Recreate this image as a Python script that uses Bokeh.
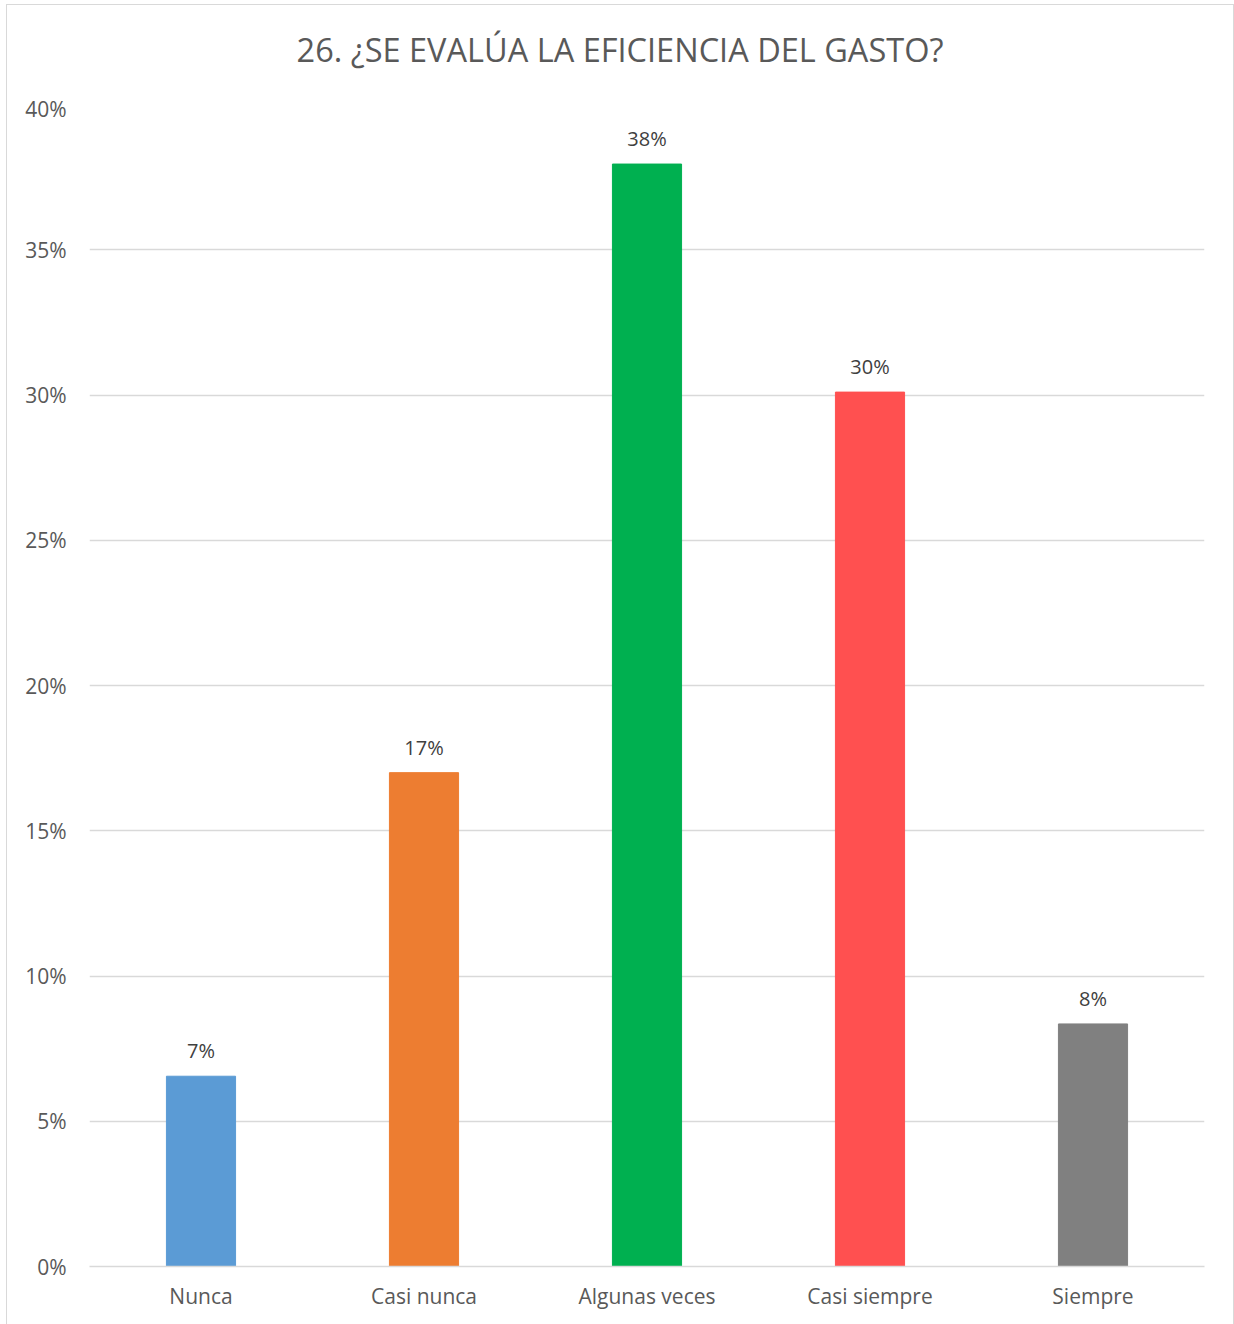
from bokeh.plotting import figure
from bokeh.models import ColumnDataSource, FixedTicker, PrintfTickFormatter, Range1d, FactorRange, Div
from bokeh.layouts import column
from bokeh.embed import file_html
from bokeh.resources import INLINE

categories = ["Nunca", "Casi nunca", "Algunas veces", "Casi siempre", "Siempre"]
values = [6.55, 17.0, 37.95, 30.1, 8.35]
colors = ["#5B9BD5", "#ED7D31", "#00B050", "#FF5050", "#808080"]
labels = [f"{round(v)}%" for v in values]
y_ticks = [0, 5, 10, 15, 20, 25, 30, 35, 40]
title_text = "26. ¿SE EVALÚA LA EFICIENCIA DEL GASTO?"

FONT = "Open Sans"
TXT = "#595959"

src = ColumnDataSource(dict(cat=categories, val=values, col=colors, lab=labels))

title = Div(text=title_text, width=1226, height=89, margin=0,
            styles={"font-family": FONT, "font-size": "32.5px", "color": TXT,
                    "text-align": "center", "line-height": "90px", "white-space": "nowrap"})

p = figure(x_range=FactorRange(*categories), y_range=Range1d(0, 40),
           width=1226, height=1230, output_backend="svg", toolbar_location=None,
           min_border_left=82, min_border_right=29, min_border_top=10, min_border_bottom=58)
p.margin = 0

p.vbar(x="cat", top="val", width=0.31, color="col", source=src)
p.text(x="cat", y="val", text="lab", source=src, text_align="center", text_baseline="bottom",
       y_offset=-12, text_font_size="20px", text_color="#404040", text_font={"value": FONT})

p.outline_line_color = None
p.xgrid.grid_line_color = None
p.ygrid.grid_line_color = "#d9d9d9"
p.ygrid.grid_line_width = 1.5
p.yaxis.ticker = FixedTicker(ticks=y_ticks)
p.yaxis.formatter = PrintfTickFormatter(format="%d%%")
p.yaxis.axis_line_color = None
p.yaxis.major_tick_line_color = None
p.yaxis.minor_tick_line_color = None
p.yaxis.major_label_standoff = 17
p.xaxis.axis_line_color = "#d9d9d9"
p.xaxis.axis_line_width = 1.5
p.xaxis.major_tick_line_color = None
p.xaxis.minor_tick_line_color = None
p.xaxis.major_label_standoff = 9
for ax in (p.xaxis, p.yaxis):
    ax.major_label_text_font = FONT
    ax.major_label_text_font_size = "21px"
    ax.major_label_text_color = TXT
p.x_range.range_padding = 0
p.x_range.group_padding = 0

layout = column(title, p, spacing=0)
layout.margin = (5, 1, 0, 7)
layout.styles = {"outline": "1.5px solid #d9d9d9", "background": "white"}

open("out.html", "w").write(file_html(layout, INLINE))
